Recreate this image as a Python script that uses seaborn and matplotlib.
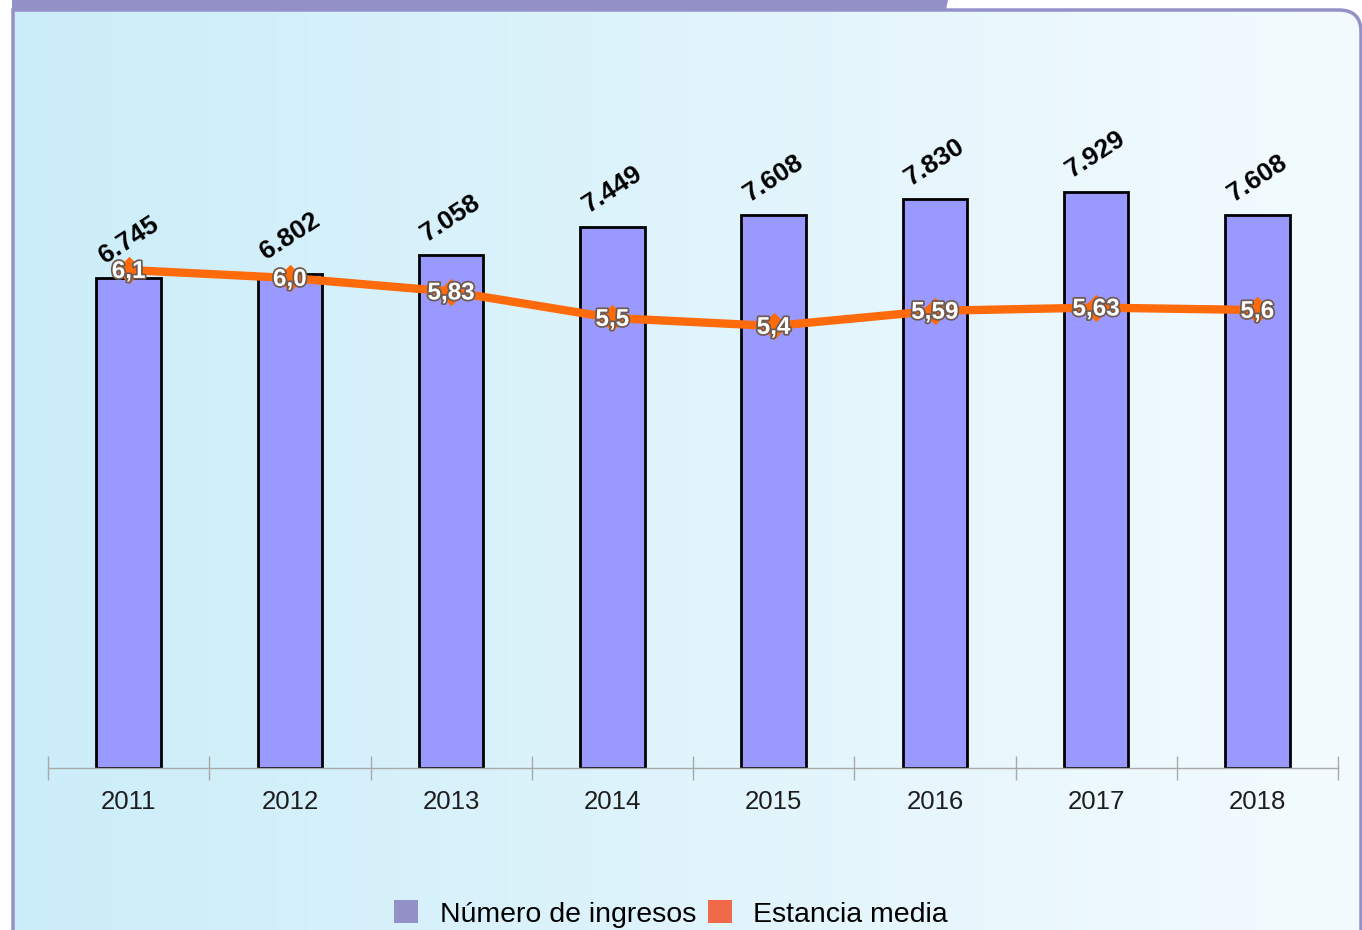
import numpy as np
import pandas as pd
import matplotlib.pyplot as plt
import matplotlib.patheffects as pe
from matplotlib.patches import PathPatch, Polygon, Patch
from matplotlib.path import Path
import seaborn as sns

# Datos
years = ['2011', '2012', '2013', '2014', '2015', '2016', '2017', '2018']
ingresos = [6745, 6802, 7058, 7449, 7608, 7830, 7929, 7608]
ingresos_txt = ['6.745', '6.802', '7.058', '7.449', '7.608', '7.830', '7.929', '7.608']
estancia = [6.1, 6.0, 5.83, 5.5, 5.4, 5.59, 5.63, 5.6]
estancia_txt = ['6,1', '6,0', '5,83', '5,5', '5,4', '5,59', '5,63', '5,6']

df = pd.DataFrame({'year': years, 'ingresos': ingresos, 'estancia': estancia})
df['pos'] = np.arange(len(years))

sns.set_style('white')
plt.rcParams['font.family'] = ['Liberation Sans', 'DejaVu Sans']

W, H = 1362, 930
fig = plt.figure(figsize=(W / 100, H / 100), dpi=100)

# Fondo: panel con degradado, esquina superior derecha redondeada
bg = fig.add_axes([0, 0, 1, 1], zorder=0)
bg.set_xlim(0, W)
bg.set_ylim(H, 0)
bg.axis('off')
c0 = np.array([203, 237, 249]) / 255
c1 = np.array([244, 251, 254]) / 255
t = np.linspace(0, 1, 256)
grad = (c0[None, :] * (1 - t[:, None]) + c1[None, :] * t[:, None])[None, :, :]
grad = np.repeat(grad, 2, axis=0)

r = 22
verts = [(13, H + 5), (13, 10), (W - 1 - r, 10), (W - 1, 10), (W - 1, 10 + r), (W - 1, H + 5)]
codes = [Path.MOVETO, Path.LINETO, Path.LINETO, Path.CURVE3, Path.CURVE3, Path.LINETO]
panel_path = Path(verts, codes)
clip = PathPatch(Path(verts + [(13, H + 5)], codes + [Path.CLOSEPOLY]),
                 fc='none', ec='none', transform=bg.transData)
bg.add_patch(clip)
im = bg.imshow(grad, extent=[13, W, H, 10], aspect='auto', zorder=1)
im.set_clip_path(clip)
bg.add_patch(PathPatch(panel_path, fc='none', ec='#9490C8', lw=2.5, zorder=3))
bg.add_patch(Polygon([(12, 0), (948, 0), (946, 10), (12, 10)], closed=True,
                     fc='#9490C8', ec='none', zorder=4))

# Ejes principales
ax = fig.add_axes([48 / W, (H - 768) / H, 1290 / W, 708 / H], zorder=2)
ax.patch.set_alpha(0)
sns.barplot(data=df, x='year', y='ingresos', color='#9999FF', width=0.4,
            edgecolor='black', linewidth=2, saturation=1, ax=ax)
ax.set_ylim(0, 9745)
ax.set_xlim(-0.5, len(years) - 0.5)
ax.set_xlabel('')
ax.set_ylabel('')
ax.set_yticks([])
for s in ['top', 'left', 'right']:
    ax.spines[s].set_visible(False)
ax.spines['bottom'].set_color('#A9A9A9')
ax.spines['bottom'].set_linewidth(1)
ax.set_xticks(np.arange(len(years)))
ax.set_xticklabels(years, fontsize=18.5, color='#1E1E1E')
ax.tick_params(axis='x', which='major', bottom=True, length=0, pad=16)
ax.set_xticks(np.arange(-0.5, len(years)), minor=True)
ax.tick_params(axis='x', which='minor', bottom=True, direction='inout',
               length=17, color='#A9A9A9', width=1)

for p, v, txt in zip(df['pos'], ingresos, ingresos_txt):
    ax.annotate(txt, (p, v), xytext=(0, 27), textcoords='offset points',
                ha='center', va='center', rotation=33, rotation_mode='anchor',
                fontsize=19, fontweight='bold', color='black')

# Estancia media en eje secundario
ax2 = ax.twinx()
sns.lineplot(data=df, x='pos', y='estancia', color='#FF6A0A', linewidth=6,
             marker='D', markersize=13, markeredgecolor='#FF6A0A', ax=ax2)
ax2.set_ylim(-0.125, 8.725)
ax2.set_xlim(-0.5, len(years) - 0.5)
ax2.axis('off')
for p, v, txt in zip(df['pos'], estancia, estancia_txt):
    ax2.annotate(txt, (p, v), xytext=(0, -1), textcoords='offset points',
                 ha='center', va='center', fontsize=17.5, fontweight='bold',
                 color='white',
                 path_effects=[pe.withStroke(linewidth=2.5, foreground='#6E5A50')])

# Leyenda
handles = [Patch(facecolor='#9490C8', edgecolor='none', label='Número de ingresos'),
           Patch(facecolor='#F0694A', edgecolor='none', label='Estancia media')]
leg = fig.legend(handles=handles, loc='center', bbox_to_anchor=(671 / W, 16 / H),
                 ncol=2, frameon=False, fontsize=20.5, handlelength=0.85,
                 handleheight=0.85, handletextpad=0.75, columnspacing=0.4,
                 borderpad=0)
for txt in leg.get_texts():
    txt.set_color('black')

fig.savefig('out.png', dpi=100)
